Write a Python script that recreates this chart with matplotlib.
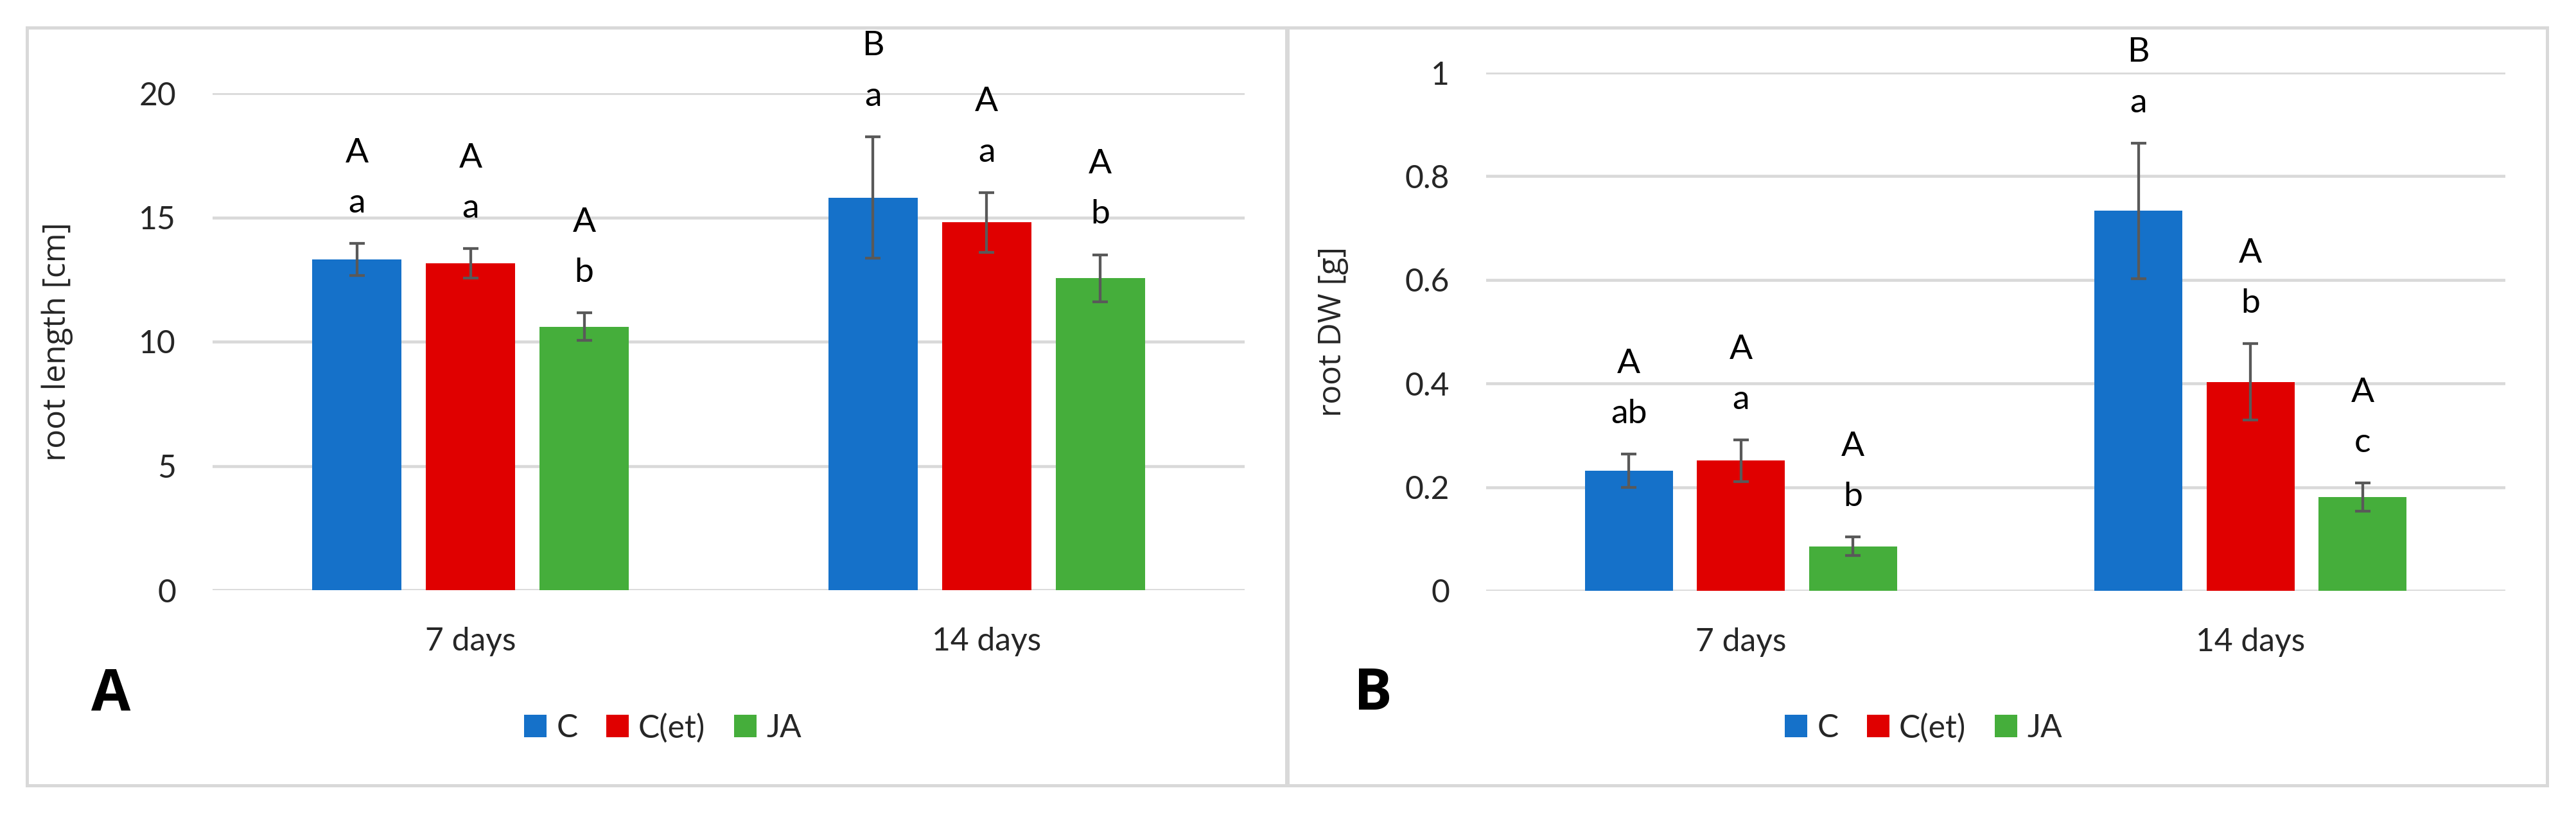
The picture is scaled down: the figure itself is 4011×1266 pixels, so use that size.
import numpy as np
import matplotlib
matplotlib.use('Agg')
import matplotlib.pyplot as plt
from matplotlib.patches import Rectangle
from matplotlib.ticker import FormatStrFormatter

plt.rcParams['font.family'] = ['Lato', 'DejaVu Sans']

# ---- data ----
groups = ['7 days', '14 days']
series = ['C', 'C(et)', 'JA']
colors = ['#1571C9', '#E00000', '#45AE3B']

# panel A: root length [cm], rows = C, C(et), JA
len_mean = [[13.3, 15.8], [13.15, 14.8], [10.6, 12.55]]
len_err = [[0.65, 2.45], [0.6, 1.2], [0.55, 0.95]]
len_upper = [['A', 'B'], ['A', 'A'], ['A', 'A']]
len_lower = [['a', 'a'], ['a', 'a'], ['b', 'b']]

# panel B: root DW [g]
dw_mean = [[0.232, 0.733], [0.251, 0.403], [0.086, 0.181]]
dw_err = [[0.032, 0.131], [0.04, 0.074], [0.018, 0.027]]
dw_upper = [['A', 'B'], ['A', 'A'], ['A', 'A']]
dw_lower = [['ab', 'a'], ['a', 'b'], ['b', 'c']]

W, H, DPI = 4011, 1266, 256
FS = 14


def draw_panel(ax, mean, err, upper, lower, ylabel, ylim, yticks):
    x = np.arange(len(groups))
    width = 0.173
    step = 0.22
    for i, s in enumerate(series):
        xi = x + (i - 1) * step
        ax.bar(xi, mean[i], width, color=colors[i], label=s, zorder=2)
        ax.errorbar(xi, mean[i], yerr=err[i], fmt='none', ecolor='#595959',
                    elinewidth=1.2, capsize=3.4, capthick=1.2, zorder=3)
        for j in range(len(groups)):
            top = mean[i][j] + err[i][j]
            ax.annotate(lower[i][j], (xi[j], top), xytext=(0, 11),
                        textcoords='offset points', ha='center', va='bottom',
                        fontsize=FS + 1)
            ax.annotate(upper[i][j], (xi[j], top), xytext=(0, 33),
                        textcoords='offset points', ha='center', va='bottom',
                        fontsize=FS + 1)
    ax.set_xlim(-0.5, 1.5)
    ax.set_ylim(*ylim)
    ax.set_yticks(yticks)
    ax.yaxis.set_major_formatter(FormatStrFormatter('%g'))
    ax.set_xticks(x)
    ax.set_xticklabels(groups)
    ax.yaxis.grid(True, color='#D9D9D9', linewidth=1.3)
    ax.set_axisbelow(True)
    for sp in ax.spines.values():
        sp.set_visible(False)
    ax.tick_params(axis='both', length=0, labelsize=FS, labelcolor='#262626')
    ax.tick_params(axis='x', pad=16)
    ax.tick_params(axis='y', pad=16)
    ax.set_ylabel(ylabel, fontsize=FS, color='#262626',
                  family=['Open Sans', 'DejaVu Sans'])
    ax.yaxis.set_label_coords(-0.135, 0.5)


fig = plt.figure(figsize=(W / DPI, H / DPI), dpi=DPI)

# panel frames
for x0, w in [(42, 1961), (2005, 1961)]:
    fig.patches.append(Rectangle((x0 / W, 43 / H), w / W, 1180 / H, fill=False,
                                 edgecolor='#D9D9D9', linewidth=1.4,
                                 transform=fig.transFigure))

ax_a = fig.add_axes([331 / W, 1 - 919 / H, 1607 / W, 774 / H])
draw_panel(ax_a, len_mean, len_err, len_upper, len_lower, 'root length [cm]',
           (0, 20), [0, 5, 10, 15, 20])

ax_b = fig.add_axes([2314 / W, 1 - 920 / H, 1587 / W, 807 / H])
draw_panel(ax_b, dw_mean, dw_err, dw_upper, dw_lower, 'root DW [g]',
           (0, 1), [0, 0.2, 0.4, 0.6, 0.8, 1])

for ax, cx in [(ax_a, 1032 / W), (ax_b, 2995 / W)]:
    ax.legend(loc='center', bbox_to_anchor=(cx, 1 - 1134 / H),
              bbox_transform=fig.transFigure, ncol=3, frameon=False,
              fontsize=FS, handlelength=0.7, handleheight=0.7,
              handletextpad=0.3, columnspacing=0.9, labelcolor='#262626')

fig.text(173 / W, 1 - 1082 / H, 'A', fontsize=25, fontweight='bold',
         ha='center', va='center', family=['Open Sans', 'DejaVu Sans'])
fig.text(2138 / W, 1 - 1082 / H, 'B', fontsize=25, fontweight='bold',
         ha='center', va='center', family=['Open Sans', 'DejaVu Sans'])

fig.savefig('out.png', dpi=DPI)
